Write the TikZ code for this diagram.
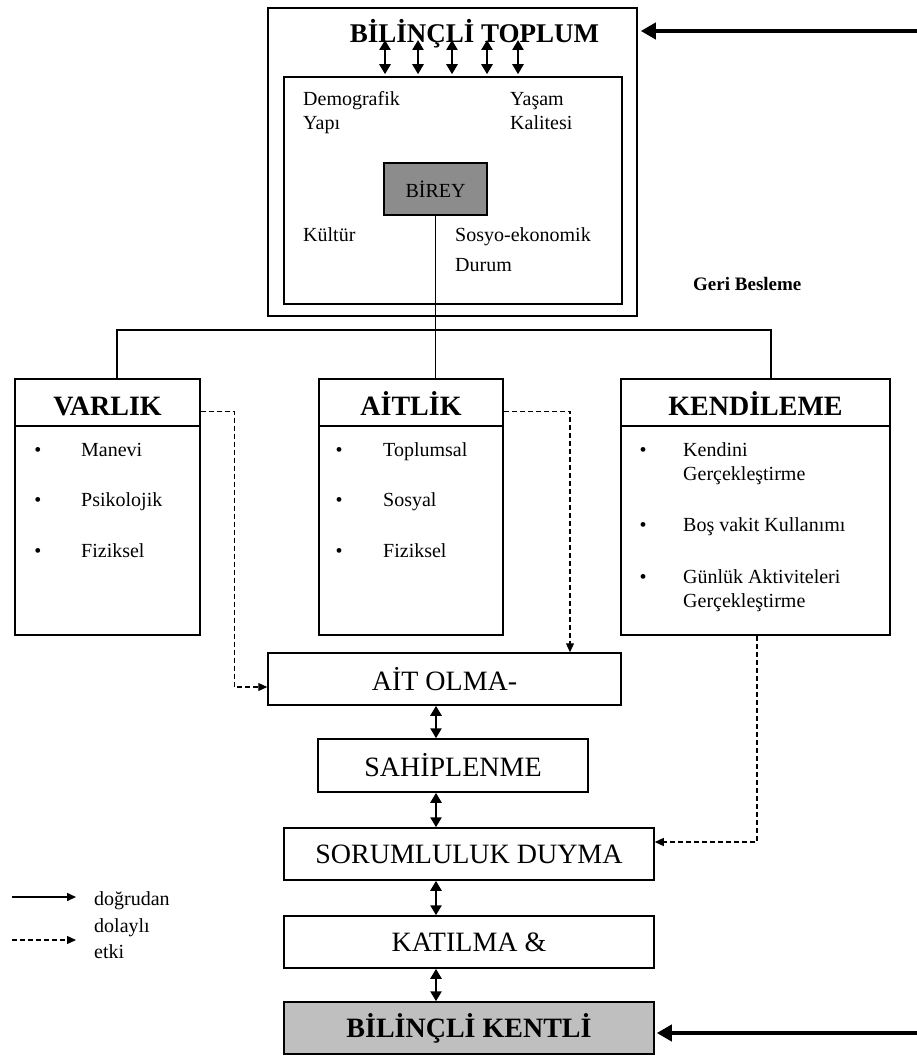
\documentclass[tikz,border=0pt]{standalone}
\usepackage{fontspec}
\setmainfont{Liberation Serif}
\usetikzlibrary{arrows.meta,calc}

\newcommand\ftext{\fontsize{20}{23}\selectfont}
\newcommand\fproc{\fontsize{28}{30}\selectfont}
\newcommand\fhead{\fontsize{28}{30}\selectfont\bfseries}
\newcommand\ftop{\fontsize{27}{30}\selectfont\bfseries}
\newcommand\fgeri{\fontsize{19}{22}\selectfont\bfseries}

\tikzset{
  frame/.style={draw, line width=1.5pt, inner sep=0pt},
  head/.style={frame, font=\fhead, text height=25pt, text depth=0pt},
  txt/.style={anchor=base west, inner sep=0pt, font=\ftext},
  bul/.style={anchor=base, inner sep=0pt, font=\ftext},
  dbl/.style={line width=2.6pt, {Triangle[length=10pt,width=11pt]}-{Triangle[length=10pt,width=11pt]}},
  feed/.style={line width=4pt, -{Triangle[length=15pt,width=16pt]}},
  indirect/.style={line width=1.2pt, dash pattern=on 5pt off 3pt, -{Triangle[length=9pt,width=8pt]}},
  direct/.style={line width=1.6pt, -{Triangle[length=9pt,width=8pt]}},
  plain/.style={line width=1.5pt},
}

\begin{document}
\begin{tikzpicture}[x=1pt,y=-1pt]
\useasboundingbox[fill=white] (0,0) rectangle (917,1057);

% society block
\node[frame, minimum width=369pt, minimum height=308pt] (outer) at (452.5,162) {};
\node[frame, minimum width=338pt, minimum height=227pt] (inner) at (453,190.5) {};
\node[anchor=base, inner sep=0pt, font=\ftop] (title) at (474.5,43) {BİLİNÇLİ TOPLUM};
\node[frame, fill=black!45, minimum width=103pt, minimum height=52pt, font=\ftext] (birey) at (435.5,189) {BİREY};

\node[txt] (demo1) at (303,105) {Demografik};
\node[txt] (demo2) at (303,129) {Yapı};
\node[txt] (yas1) at (510,105) {Yaşam};
\node[txt] (yas2) at (510,129) {Kalitesi};
\node[txt] (kult) at (303,241) {Kültür};
\node[txt] (sos1) at (455,241) {Sosyo-ekonomik};
\node[txt] (sos2) at (455,271) {Durum};

\foreach \i/\xx in {1/385,2/418,3/452,4/487,5/518}{
  \coordinate (t\i) at (\xx,40);
  \draw[dbl, shorten >=2pt] (t\i) -- (t\i |- inner.north);
}

% feedback
\node[anchor=base west, inner sep=0pt, font=\fgeri] (geri) at (693,290) {Geri Besleme};
\coordinate (fbtop) at (918,31);
\coordinate (fbbot) at (918,1033);
\draw[feed, shorten >=3pt] (fbtop) -- (fbtop -| outer.east);

% three dimensions
\node[head, minimum width=185pt, minimum height=47pt] (varT) at (107.5,402.5) {VARLIK};
\node[frame, minimum width=185pt, minimum height=209pt] (varB) at (107.5,530.5) {};
\node[head, minimum width=184pt, minimum height=47pt] (aitT) at (411,402.5) {AİTLİK};
\node[frame, minimum width=184pt, minimum height=209pt] (aitB) at (411,530.5) {};
\node[head, minimum width=269pt, minimum height=47pt] (kenT) at (755.5,402.5) {KENDİLEME};
\node[frame, minimum width=269pt, minimum height=209pt] (kenB) at (755.5,530.5) {};

% branching from the individual
\coordinate (jl) at (117,330);
\coordinate (jm) at (435.5,330);
\coordinate (jr) at (771,330);
\draw[plain] (birey.south) -- (jm);
\draw[plain] (varT.north -| jl) -- (jl) -- (jr) -- (jr |- kenT.north);
\draw[plain] (jm) -- (jm |- aitT.north);

% list items
\foreach \yy/\t in {456/Manevi,506/Psikolojik,557/Fiziksel}{
  \node[bul] at (38,\yy) {•};
  \node[txt] at (81,\yy) {\t};
}
\foreach \yy/\t in {456/Toplumsal,506/Sosyal,557/Fiziksel}{
  \node[bul] at (339,\yy) {•};
  \node[txt] at (383,\yy) {\t};
}
\node[bul] at (643,456) {•};
\node[txt] (k1) at (683,456) {Kendini};
\node[txt] (k2) at (683,480) {Gerçekleştirme};
\node[bul] at (643,531) {•};
\node[txt] (k3) at (683,531) {Boş vakit Kullanımı};
\node[bul] at (643,583) {•};
\node[txt] (k4) at (683,583) {Günlük Aktiviteleri};
\node[txt] (k5) at (683,607) {Gerçekleştirme};

% process chain
\node[frame, minimum width=353pt, minimum height=52pt, font=\fproc] (aitolma) at (444.5,679) {AİT OLMA-};
\node[frame, minimum width=270pt, minimum height=53pt, font=\fproc] (sahip) at (453,765.5) {SAHİPLENME};
\node[frame, minimum width=370pt, minimum height=52pt, font=\fproc] (sorum) at (469,854) {SORUMLULUK DUYMA};
\node[frame, minimum width=370pt, minimum height=52pt, font=\fproc] (katil) at (469,942) {KATILMA \&};
\node[frame, fill=black!25, minimum width=370pt, minimum height=52pt, font=\fhead] (kentli) at (469,1028) {BİLİNÇLİ KENTLİ};

\coordinate (ax) at (436,0);
\draw[dbl] (aitolma.south -| ax) -- (sahip.north -| ax);
\draw[dbl] (sahip.south -| ax) -- (sorum.north -| ax);
\draw[dbl] (sorum.south -| ax) -- (katil.north -| ax);
\draw[dbl] (katil.south -| ax) -- (kentli.north -| ax);

\draw[feed, shorten >=2pt] (fbbot) -- (fbbot -| kentli.east);

% indirect influences
\draw[indirect] ([yshift=-9pt]varT.east) -- ++(34,0) |- ([yshift=-8pt]aitolma.west);
\draw[indirect] ([yshift=-9pt]aitT.east) -| ([xshift=125.5pt]aitolma.north);
\draw[indirect] ([xshift=1.5pt]kenB.south) |- ([yshift=12pt]sorum.east);

% legend
\coordinate (la1) at (12,897);
\coordinate (la2) at (76,897);
\coordinate (lb1) at (12,940);
\coordinate (lb2) at (76,940);
\draw[direct] (la1) -- (la2);
\draw[indirect] (lb1) -- (lb2);
\node[txt] (lg1) at (94,905) {doğrudan};
\node[txt] (lg2) at (94,932) {dolaylı};
\node[txt] (lg3) at (94,958) {etki};
\end{tikzpicture}
\end{document}
